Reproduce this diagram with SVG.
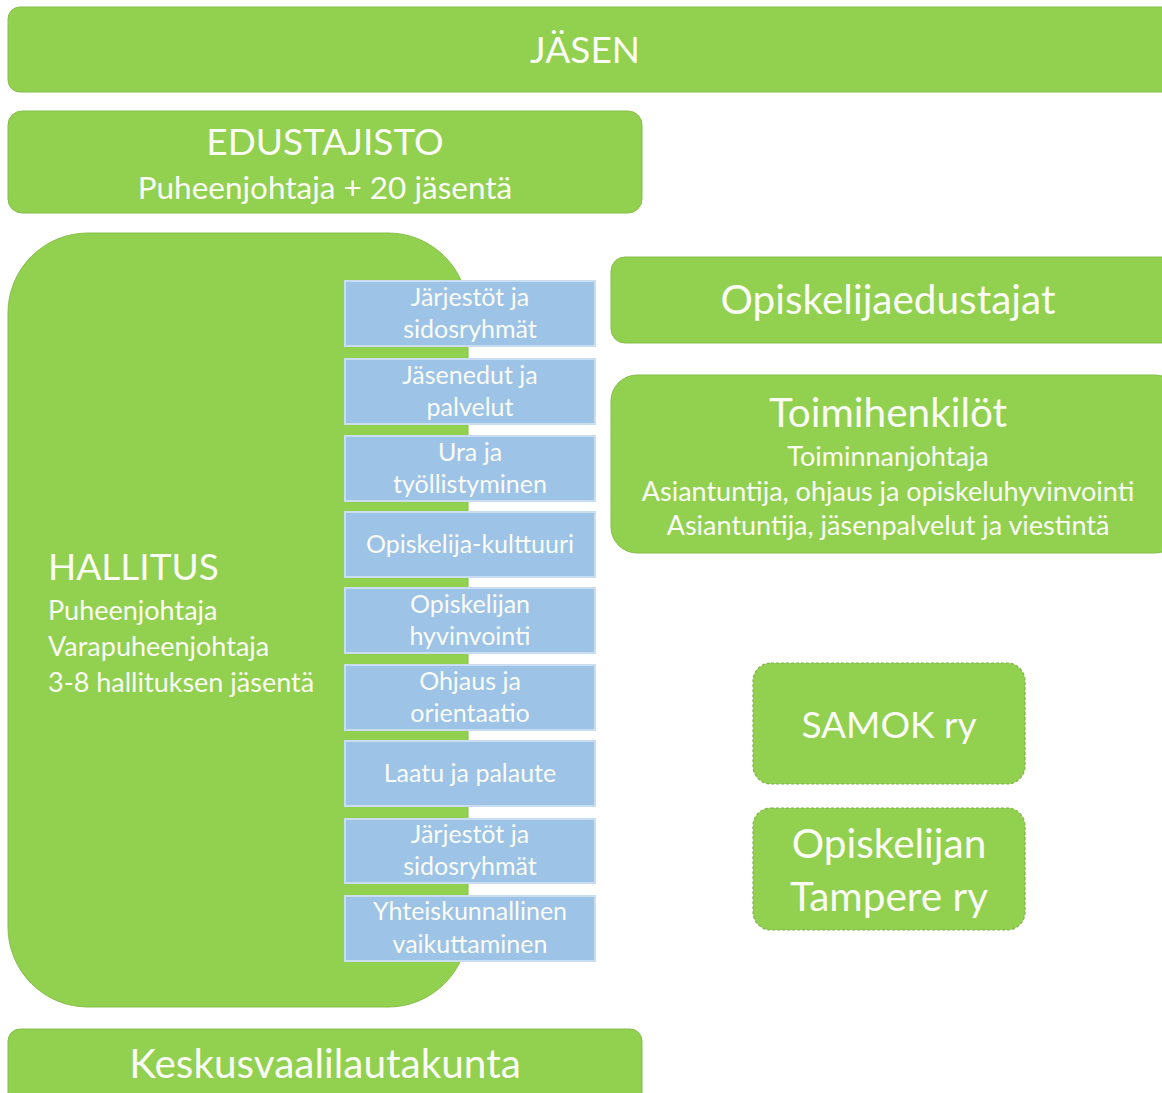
<svg xmlns="http://www.w3.org/2000/svg" width="1162" height="1093" viewBox="0 0 1162 1093">
<style>
.g{fill:#92D050;stroke:#84BF48;stroke-width:1}
.d{fill:#92D050;stroke:#7FB445;stroke-width:1.2;stroke-dasharray:3 2}
.b{fill:#9DC3E6;stroke:#C9DDF0;stroke-width:2}
text{font-family:Lato,"Open Sans","Liberation Sans",sans-serif;fill:#FAFCF5}
.c{text-anchor:middle}
.t36{font-size:37px}
.t40{font-size:40.5px}
.t28{font-size:31.5px}
.t24{font-size:27px}
.t22{font-size:25px}
</style>
<rect width="1162" height="1093" fill="#ffffff"/>
<g id="jasen"><rect class="g" x="8" y="7" width="1170" height="85" rx="12"/><text class="c t36" x="585" y="63">JÄSEN</text></g>
<g id="edustajisto"><rect class="g" x="8" y="111" width="634" height="102" rx="14"/><text class="c t36" x="325" y="155">EDUSTAJISTO</text><text class="c t28" x="325" y="199">Puheenjohtaja + 20 jäsentä</text></g>
<g id="hallitus"><rect class="g" x="8" y="233" width="460" height="774" rx="80"/><text class="t36" x="48" y="580">HALLITUS</text><text class="t24" x="48" y="620">Puheenjohtaja</text><text class="t24" x="48" y="656">Varapuheenjohtaja</text><text class="t24" x="48" y="692">3-8 hallituksen jäsentä</text></g>
<g id="b1"><rect class="b" x="345" y="281" width="250" height="65"/><text class="c t22" x="470" y="306">Järjestöt ja</text><text class="c t22" x="470" y="338">sidosryhmät</text></g>
<g id="b2"><rect class="b" x="345" y="359" width="250" height="65"/><text class="c t22" x="470" y="384">Jäsenedut ja</text><text class="c t22" x="470" y="416">palvelut</text></g>
<g id="b3"><rect class="b" x="345" y="436" width="250" height="65"/><text class="c t22" x="470" y="461">Ura ja</text><text class="c t22" x="470" y="493">työllistyminen</text></g>
<g id="b4"><rect class="b" x="345" y="512" width="250" height="65"/><text class="c t22" x="470" y="553">Opiskelija-kulttuuri</text></g>
<g id="b5"><rect class="b" x="345" y="588" width="250" height="65"/><text class="c t22" x="470" y="613">Opiskelijan</text><text class="c t22" x="470" y="645">hyvinvointi</text></g>
<g id="b6"><rect class="b" x="345" y="665" width="250" height="65"/><text class="c t22" x="470" y="690">Ohjaus ja</text><text class="c t22" x="470" y="722">orientaatio</text></g>
<g id="b7"><rect class="b" x="345" y="741" width="250" height="65"/><text class="c t22" x="470" y="782">Laatu ja palaute</text></g>
<g id="b8"><rect class="b" x="345" y="819" width="250" height="64"/><text class="c t22" x="470" y="843">Järjestöt ja</text><text class="c t22" x="470" y="875">sidosryhmät</text></g>
<g id="b9"><rect class="b" x="345" y="896" width="250" height="65"/><text class="c t22" x="470" y="920">Yhteiskunnallinen</text><text class="c t22" x="470" y="953">vaikuttaminen</text></g>
<g id="opiskelijaedustajat"><rect class="g" x="611" y="257" width="570" height="86" rx="14"/><text class="c t40" x="888" y="314">Opiskelijaedustajat</text></g>
<g id="toimihenkilot"><rect class="g" x="611" y="375" width="570" height="178" rx="26"/><text class="c t40" x="888" y="427">Toimihenkilöt</text><text class="c t24" x="888" y="466">Toiminnanjohtaja</text><text class="c t24" x="888" y="501">Asiantuntija, ohjaus ja opiskeluhyvinvointi</text><text class="c t24" x="888" y="535">Asiantuntija, jäsenpalvelut ja viestintä</text></g>
<g id="samok"><rect class="d" x="753" y="663" width="272" height="121" rx="18"/><text class="c t36" x="889" y="738">SAMOK ry</text></g>
<g id="tampere"><rect class="d" x="753" y="808" width="272" height="122" rx="18"/><text class="c t40" x="889" y="858">Opiskelijan</text><text class="c t40" x="889" y="911">Tampere ry</text></g>
<g id="keskusvaalilautakunta"><rect class="g" x="8" y="1029" width="634" height="80" rx="12"/><text class="c t40" x="325" y="1078">Keskusvaalilautakunta</text></g>
<g id="connectors"></g>
</svg>
